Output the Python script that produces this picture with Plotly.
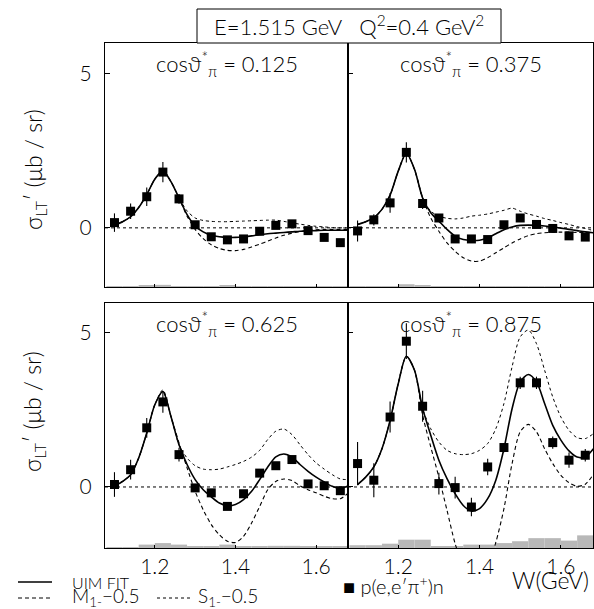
import plotly.graph_objects as go

# ---------------- data ----------------
W_pts = [1.10, 1.14, 1.18, 1.22, 1.26, 1.30, 1.34, 1.38, 1.42, 1.46, 1.50, 1.54, 1.58, 1.62, 1.66]
W_curve = [1.10, 1.12, 1.14, 1.16, 1.18, 1.20, 1.22, 1.24, 1.26, 1.28, 1.30, 1.32, 1.34, 1.36, 1.38,
           1.40, 1.42, 1.44, 1.46, 1.48, 1.50, 1.52, 1.54, 1.56, 1.58, 1.60, 1.62, 1.64, 1.66, 1.68]

panel_titles = ["0.125", "0.375", "0.625", "0.875"]

# cos = 0.125
tl_y = [0.17, 0.54, 1.01, 1.81, 0.94, 0.10, -0.29, -0.39, -0.36, -0.11, 0.08, 0.13, -0.09, -0.31, -0.48]
tl_err = [0.30, 0.25, 0.30, 0.33, 0.16, 0.08, 0.08, 0.08, 0.08, 0.08, 0.08, 0.08, 0.08, 0.08, 0.08]
tl_sys = [0.03, 0.03, 0.04, 0.07, 0.03, 0.03, 0.03, 0.04, 0.03, 0.02, 0.02, 0.02, 0.02, 0.02, 0.02]
tl_fit = [0.09, 0.20, 0.36, 0.66, 1.08, 1.58, 1.85, 1.50, 0.97, 0.43, 0.06, -0.13, -0.24, -0.29, -0.31,
          -0.31, -0.29, -0.26, -0.22, -0.19, -0.17, -0.15, -0.13, -0.11, -0.10, -0.09, -0.08, -0.08, -0.08, -0.08]
tl_m1 = [0.09, 0.20, 0.36, 0.66, 1.08, 1.58, 1.85, 1.50, 0.97, 0.38, -0.05, -0.35, -0.55, -0.67, -0.73,
         -0.74, -0.70, -0.62, -0.53, -0.43, -0.33, -0.24, -0.17, -0.12, -0.08, -0.06, -0.05, -0.05, -0.05, -0.05]
tl_s1 = [0.09, 0.20, 0.36, 0.66, 1.08, 1.58, 1.85, 1.50, 0.97, 0.55, 0.32, 0.24, 0.21, 0.20, 0.20,
         0.21, 0.22, 0.23, 0.24, 0.25, 0.25, 0.21, 0.16, 0.12, 0.08, 0.05, 0.03, 0.01, 0.00, 0.00]

# cos = 0.375
tr_y = [-0.10, 0.26, 0.81, 2.45, 0.79, 0.32, -0.36, -0.36, -0.38, 0.10, 0.32, 0.11, -0.02, -0.26, -0.30]
tr_err = [0.34, 0.18, 0.32, 0.33, 0.18, 0.08, 0.08, 0.08, 0.08, 0.08, 0.08, 0.08, 0.08, 0.08, 0.08]
tr_sys = [0.03, 0.03, 0.03, 0.09, 0.05, 0.03, 0.03, 0.03, 0.03, 0.03, 0.03, 0.03, 0.03, 0.03, 0.03]
tr_fit = [0.11, 0.20, 0.33, 0.60, 1.06, 1.84, 2.42, 1.90, 0.97, 0.49, 0.22, -0.05, -0.27, -0.38, -0.41,
          -0.40, -0.33, -0.19, -0.06, 0.03, 0.08, 0.09, 0.08, 0.06, 0.03, -0.01, -0.05, -0.09, -0.13, -0.16]
tr_m1 = [0.11, 0.20, 0.33, 0.60, 1.06, 1.84, 2.42, 1.90, 0.97, 0.32, -0.11, -0.49, -0.76, -0.97, -1.08,
         -1.08, -0.97, -0.81, -0.65, -0.49, -0.36, -0.25, -0.19, -0.16, -0.14, -0.14, -0.14, -0.15, -0.15, -0.16]
tr_s1 = [0.11, 0.20, 0.33, 0.60, 1.06, 1.84, 2.42, 1.90, 0.97, 0.54, 0.38, 0.31, 0.29, 0.32, 0.38,
         0.41, 0.45, 0.51, 0.57, 0.64, 0.54, 0.45, 0.38, 0.30, 0.24, 0.17, 0.11, 0.04, -0.02, -0.09]

# cos = 0.625
bl_y = [0.08, 0.56, 1.92, 2.76, 1.05, -0.03, -0.19, -0.63, -0.22, 0.45, 0.69, 0.89, 0.10, 0.04, -0.12]
bl_err = [0.40, 0.32, 0.32, 0.35, 0.22, 0.12, 0.10, 0.10, 0.10, 0.12, 0.10, 0.10, 0.10, 0.10, 0.10]
bl_sys = [0.03, 0.03, 0.11, 0.16, 0.11, 0.05, 0.05, 0.11, 0.05, 0.05, 0.07, 0.07, 0.05, 0.05, 0.05]
bl_fit = [0.02, 0.18, 0.40, 0.94, 1.75, 2.67, 3.10, 2.29, 1.37, 0.73, 0.24, -0.09, -0.32, -0.52, -0.61,
          -0.57, -0.41, -0.14, 0.24, 0.65, 0.98, 1.07, 0.97, 0.73, 0.51, 0.32, 0.16, 0.02, -0.05, 0.04]
bl_m1 = [0.02, 0.18, 0.40, 0.94, 1.75, 2.67, 3.10, 2.29, 1.43, 0.62, -0.14, -0.74, -1.22, -1.55, -1.76,
         -1.80, -1.60, -1.17, -0.63, -0.09, 0.18, 0.26, 0.21, 0.04, -0.09, -0.19, -0.30, -0.38, -0.38, -0.19]
bl_s1 = [0.02, 0.18, 0.40, 0.94, 1.75, 2.67, 3.15, 2.29, 1.37, 0.94, 0.69, 0.58, 0.56, 0.58, 0.65,
         0.73, 0.83, 0.97, 1.19, 1.54, 1.81, 1.88, 1.70, 1.37, 1.05, 0.78, 0.58, 0.40, 0.26, 0.24]

# cos = 0.875
br_y = [0.76, 0.22, 2.27, 4.73, 2.62, 0.11, -0.02, -0.65, 0.65, 1.28, 3.38, 3.38, 1.44, 0.87, 1.03]
br_err = [0.70, 0.55, 0.50, 0.58, 0.50, 0.35, 0.35, 0.30, 0.27, 0.15, 0.20, 0.20, 0.20, 0.25, 0.20]
br_sys = [0.09, 0.09, 0.14, 0.27, 0.27, 0.05, 0.05, 0.11, 0.11, 0.16, 0.22, 0.32, 0.32, 0.24, 0.41]
br_fit = [0.08, 0.32, 0.65, 1.24, 2.16, 3.35, 4.24, 3.79, 2.55, 1.68, 0.87, 0.27, -0.22, -0.60, -0.78,
          -0.70, -0.38, 0.22, 1.24, 2.54, 3.41, 3.65, 3.41, 2.71, 2.00, 1.52, 1.17, 0.97, 0.97, 1.24]
br_m1 = [0.08, 0.32, 0.65, 1.24, 2.16, 3.35, 4.24, 3.79, 2.33, 1.30, 0.32, -0.76, -1.84, -2.60, -3.00,
         -3.00, -2.60, -1.80, -0.70, 0.76, 1.79, 2.03, 1.79, 1.24, 0.76, 0.38, 0.14, 0.02, 0.09, 0.41]
br_s1 = [0.08, 0.32, 0.65, 1.24, 2.16, 3.35, 4.24, 3.79, 2.54, 1.89, 1.46, 1.19, 1.08, 1.05, 1.08,
         1.19, 1.41, 1.89, 2.71, 3.90, 4.87, 5.09, 4.65, 3.79, 2.92, 2.27, 1.84, 1.60, 1.57, 1.73]

x_ticks = [1.2, 1.4, 1.6]
y_ticks = [0, 5]
x_range = [1.0765, 1.679]
y_range_top = [-1.92, 6.0]
y_range_bot = [-1.98, 5.97]

# ---------------- layout geometry ----------------
FW, FH = 594, 609
def px(x): return x / FW
def py(y): return 1 - y / FH

xdom = {"L": [px(105), px(348)], "R": [px(348), px(593)]}
ydom = {"T": [py(287), py(43)], "B": [py(548), py(303)]}

panels = [
    dict(ax="", pos=("L", "T"), yr=y_range_top, y=tl_y, e=tl_err, s=tl_sys, f=tl_fit, m=tl_m1, d=tl_s1),
    dict(ax="2", pos=("R", "T"), yr=y_range_top, y=tr_y, e=tr_err, s=tr_sys, f=tr_fit, m=tr_m1, d=tr_s1),
    dict(ax="3", pos=("L", "B"), yr=y_range_bot, y=bl_y, e=bl_err, s=bl_sys, f=bl_fit, m=bl_m1, d=bl_s1),
    dict(ax="4", pos=("R", "B"), yr=y_range_bot, y=br_y, e=br_err, s=br_sys, f=br_fit, m=br_m1, d=br_s1),
]

FONT = "Lato, Liberation Sans, Arial, sans-serif"
W8 = 300
def F(size):
    return dict(size=size, family=FONT, weight=W8, color="black")

fig = go.Figure()
layout = dict(width=FW, height=FH, margin=dict(l=0, r=0, t=0, b=0),
              paper_bgcolor="white", plot_bgcolor="white", showlegend=False,
              barmode="overlay", font=F(16))
shapes = []
annotations = []

for i, p in enumerate(panels):
    xa, ya = "x" + p["ax"], "y" + p["ax"]
    base = p["yr"][0]
    fig.add_trace(go.Bar(x=W_pts, y=p["s"], base=base, width=0.04, xaxis=xa, yaxis=ya,
                         marker=dict(color="#b8b8b8", line=dict(width=0))))
    fig.add_trace(go.Scatter(x=W_curve, y=p["d"], mode="lines", xaxis=xa, yaxis=ya,
                             line=dict(color="black", width=1, dash="dot", shape="spline", smoothing=0.8)))
    fig.add_trace(go.Scatter(x=W_curve, y=p["m"], mode="lines", xaxis=xa, yaxis=ya,
                             line=dict(color="black", width=1.1, dash="4px,3px", shape="spline", smoothing=0.8)))
    fig.add_trace(go.Scatter(x=W_curve, y=p["f"], mode="lines", xaxis=xa, yaxis=ya,
                             line=dict(color="black", width=1.6, shape="spline", smoothing=0.8)))
    fig.add_trace(go.Scatter(x=W_pts, y=p["y"], mode="markers", xaxis=xa, yaxis=ya,
                             marker=dict(symbol="square", size=9, color="black"),
                             error_y=dict(type="data", array=p["e"], thickness=1.1, width=0, color="black")))
    left = p["pos"][0] == "L"
    bottom = p["pos"][1] == "B"
    layout["xaxis" + p["ax"]] = dict(domain=xdom[p["pos"][0]], range=x_range, anchor=ya,
                                     showgrid=False, zeroline=False, showline=True, mirror=True,
                                     linecolor="black", linewidth=1.3, ticks="inside", ticklen=3,
                                     tickwidth=1, tickcolor="black", tickvals=x_ticks,
                                     ticktext=[f"{v:.1f}" for v in x_ticks],
                                     showticklabels=bottom, ticklabelstandoff=0,
                                     tickfont=F(21))
    layout["yaxis" + p["ax"]] = dict(domain=ydom[p["pos"][1]], range=p["yr"], anchor=xa,
                                     showgrid=False, zeroline=False, showline=True, mirror=True,
                                     linecolor="black", linewidth=1.3, ticks="inside", ticklen=5,
                                     tickwidth=1, tickcolor="black", tickvals=y_ticks,
                                     ticktext=[str(v) for v in y_ticks],
                                     showticklabels=left, ticklabelstandoff=8,
                                     tickfont=F(21))
    # zero reference line
    shapes.append(dict(type="line", xref=xa + " domain", yref=ya, x0=0, x1=1, y0=0, y1=0,
                       line=dict(color="black", width=1, dash="dot")))
    # panel title
    xc = (xdom[p["pos"][0]][0] + xdom[p["pos"][0]][1]) / 2
    yc = py(64) if not bottom else py(324)
    annotations.append(dict(xref="paper", yref="paper", x=xc, y=yc, xanchor="center", yanchor="middle",
                            showarrow=False,
                            text=f"cosϑ<sup>*</sup><sub>π</sub> = {panel_titles[i]}",
                            font=F(22)))

# y axis titles
for yc in (py(170), py(412)):
    annotations.append(dict(xref="paper", yref="paper", x=px(34), y=yc, xanchor="center", yanchor="middle",
                            showarrow=False, textangle=-90,
                            text="σ<sub>LT</sub>′ (μb / sr)", font=F(23)))

# header box
shapes.append(dict(type="rect", xref="paper", yref="paper", x0=px(197), x1=px(501), y0=py(43), y1=py(9),
                   line=dict(color="black", width=1), fillcolor="white"))
annotations.append(dict(xref="paper", yref="paper", x=px(349), y=py(26), xanchor="center", yanchor="middle",
                        showarrow=False, text="E=1.515 GeV   Q<sup>2</sup>=0.4 GeV<sup>2</sup>",
                        font=F(22)))

# legend
shapes.append(dict(type="line", xref="paper", yref="paper", x0=px(18), x1=px(52), y0=py(582), y1=py(582),
                   line=dict(color="black", width=1.4)))
shapes.append(dict(type="line", xref="paper", yref="paper", x0=px(18), x1=px(52), y0=py(598), y1=py(598),
                   line=dict(color="black", width=1, dash="4px,3px")))
shapes.append(dict(type="line", xref="paper", yref="paper", x0=px(157), x1=px(190), y0=py(598), y1=py(598),
                   line=dict(color="black", width=1, dash="dot")))
annotations.append(dict(xref="paper", yref="paper", x=px(70), y=py(582), xanchor="left", yanchor="middle",
                        showarrow=False, text="UIM FIT", font=F(16)))
annotations.append(dict(xref="paper", yref="paper", x=px(70), y=py(597), xanchor="left", yanchor="middle",
                        showarrow=False, text="M<sub>1-</sub>−0.5", font=F(19)))
annotations.append(dict(xref="paper", yref="paper", x=px(196), y=py(597), xanchor="left", yanchor="middle",
                        showarrow=False, text="S<sub>1-</sub>−0.5", font=F(19)))
annotations.append(dict(xref="paper", yref="paper", x=px(341), y=py(585), xanchor="left", yanchor="middle",
                        showarrow=False, text="■ p(e,e′π<sup>+</sup>)n", font=F(20)))
annotations.append(dict(xref="paper", yref="paper", x=px(591), y=py(580), xanchor="right", yanchor="middle",
                        showarrow=False, text="W(GeV)", font=F(23)))

layout["shapes"] = shapes
layout["annotations"] = annotations
fig.update_layout(**layout)
fig.write_html("out.html", config={"displayModeBar": False},
               post_script="document.body.style.margin='0';document.body.style.overflow='hidden';")
